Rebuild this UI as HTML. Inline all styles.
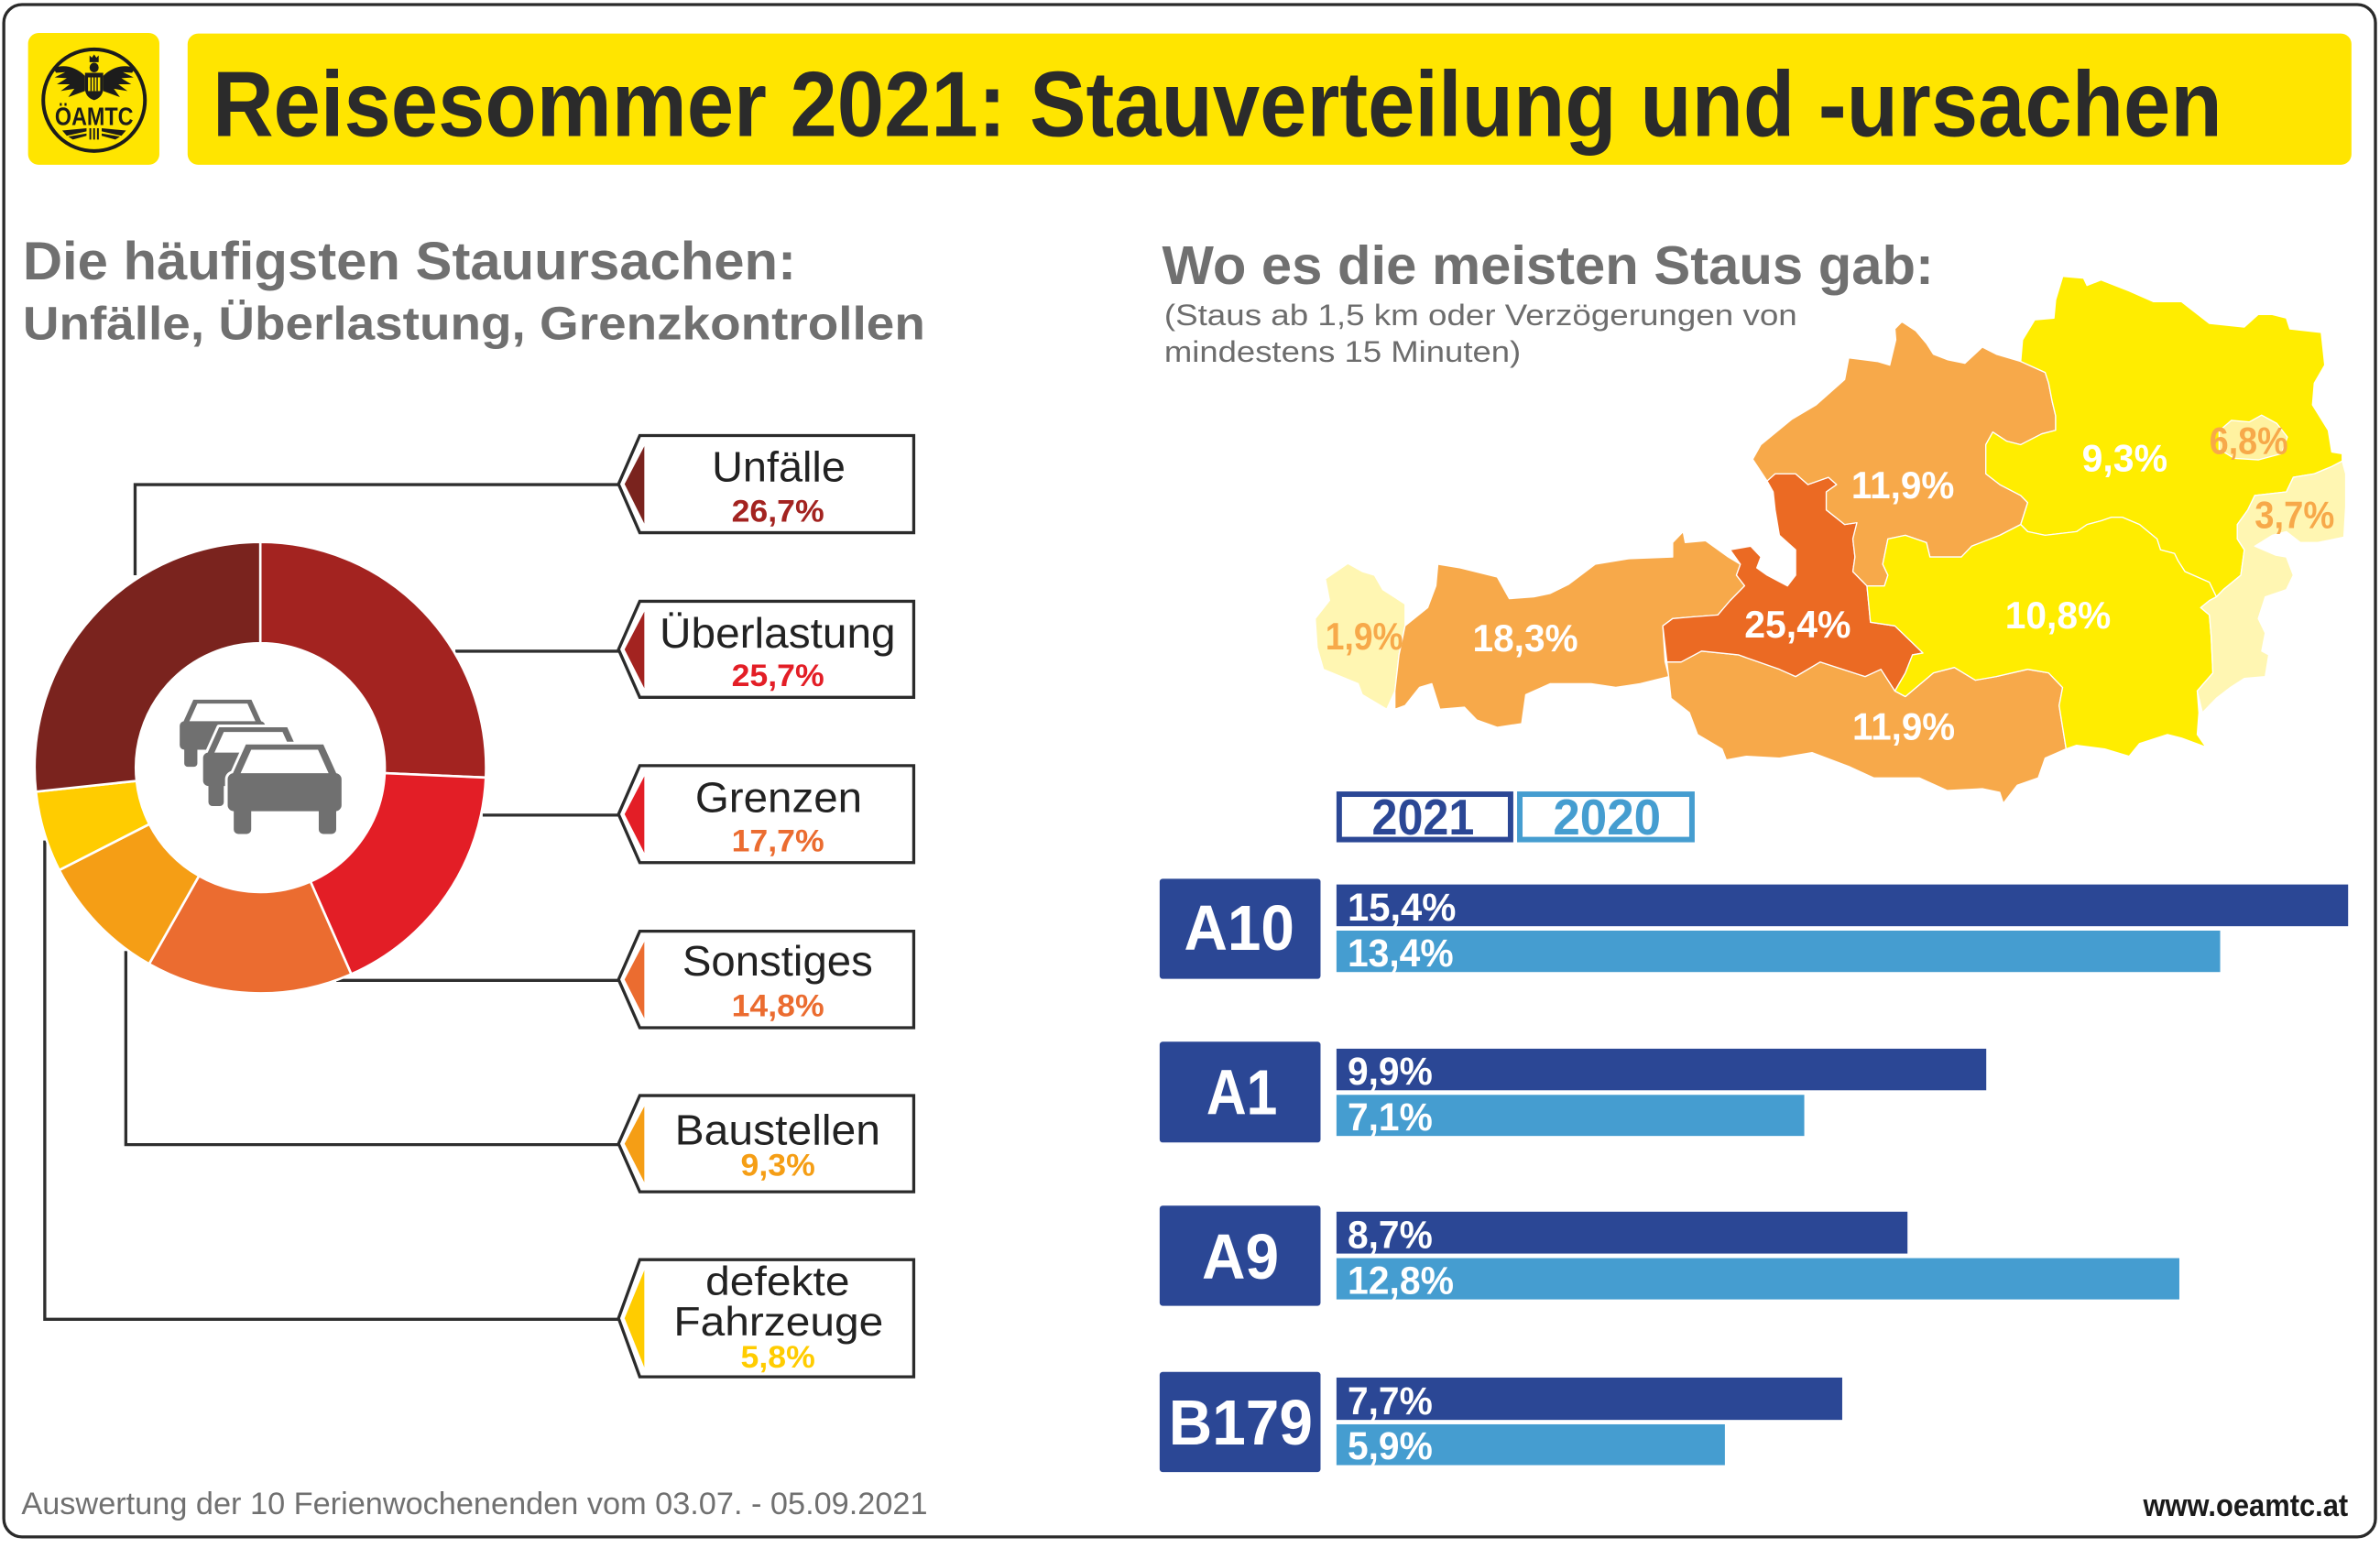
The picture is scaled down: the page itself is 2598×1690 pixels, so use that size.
<!DOCTYPE html>
<html><head><meta charset="utf-8">
<style>
html,body{margin:0;padding:0;background:#fff;}
svg{display:block;}
text{font-family:"Liberation Sans",Arial,sans-serif;}
</style></head>
<body>
<svg xmlns="http://www.w3.org/2000/svg" width="2598" height="1690" viewBox="0 0 1568 1020" preserveAspectRatio="none">
<rect x="0" y="0" width="1568" height="1020" fill="#fff"/>
<!-- outer border -->
<rect x="2.5" y="3" width="1562.5" height="1009.7" rx="12" fill="none" stroke="#2a2a2a" stroke-width="2"/>

<!-- logo box -->
<rect x="18.5" y="21.7" width="86.5" height="86.9" rx="7" fill="#FFE500"/>
<g>
  <circle cx="62" cy="66" r="33.5" fill="none" stroke="#1c1c1c" stroke-width="2.4"/>
  <path d="M59,41 L59,36.5 L60.5,38 L62,35.8 L63.5,38 L65,36.5 L65,41 Z" fill="#1c1c1c"/>
  <ellipse cx="62" cy="44.5" rx="3" ry="3.2" fill="#1c1c1c"/>
  <path d="M56,48 H68 V58 Q68,64 62,66 Q56,64 56,58 Z" fill="#1c1c1c"/>
  <rect x="58" y="51" width="8" height="9" fill="#FFE500"/>
  <path d="M60,51 V60 M62,51 V60 M64,51 V60" stroke="#1c1c1c" stroke-width="0.9"/>
  <path d="M56,50 C50,44 42,42 35,45 L37,48 L43,47.5 L36,51 L44,51.5 L37.5,55.5 L46,55.5 L40,60 L49,58.5 L45,64 L56,60 Z" fill="#1c1c1c"/>
  <path d="M68,50 C74,44 82,42 89,45 L87,48 L81,47.5 L88,51 L80,51.5 L86.5,55.5 L78,55.5 L84,60 L75,58.5 L79,64 L68,60 Z" fill="#1c1c1c"/>
  <text x="62" y="82.5" font-size="17" font-weight="bold" fill="#1c1c1c" text-anchor="middle" textLength="51.7" lengthAdjust="spacingAndGlyphs">ÖAMTC</text>
  <path d="M59.5,84.5 V92 M62,84.5 V92 M64.5,84.5 V92" stroke="#1c1c1c" stroke-width="1.2"/>
  <path d="M41,86 L57,84.5 L57,86.5 L44,89.5 Z M45,90 L57,88 L57,89.5 L48,92 Z" fill="#1c1c1c"/>
  <path d="M83,86 L67,84.5 L67,86.5 L80,89.5 Z M79,90 L67,88 L67,89.5 L76,92 Z" fill="#1c1c1c"/>
</g>

<!-- title -->
<rect x="123.6" y="22.1" width="1425.6" height="86.5" rx="7" fill="#FFE500"/>
<text x="140" y="89.5" font-size="61" font-weight="bold" fill="#2b2b2b" textLength="1324" lengthAdjust="spacingAndGlyphs">Reisesommer 2021: Stauverteilung und -ursachen</text>

<!-- left headings -->
<text x="15" y="184" font-size="35" font-weight="bold" fill="#707070" textLength="509.5" lengthAdjust="spacingAndGlyphs">Die häufigsten Stauursachen:</text>
<text x="15" y="223.7" font-size="31" font-weight="bold" fill="#707070" textLength="594.5" lengthAdjust="spacingAndGlyphs">Unfälle, Überlastung, Grenzkontrollen</text>

<!-- right headings -->
<text x="765.6" y="187" font-size="36" font-weight="bold" fill="#707070" textLength="508.4" lengthAdjust="spacingAndGlyphs">Wo es die meisten Staus gab:</text>
<text x="767" y="214.2" font-size="19.5" fill="#6d6d6d" textLength="417" lengthAdjust="spacingAndGlyphs">(Staus ab 1,5 km oder Verzögerungen von</text>
<text x="767" y="238.4" font-size="19.5" fill="#6d6d6d" textLength="235" lengthAdjust="spacingAndGlyphs">mindestens 15 Minuten)</text>

<!-- connector lines -->
<g fill="none" stroke="#2e2e2e" stroke-width="2">
  <path d="M89,379 V319.3 H408"/>
  <path d="M300,429.1 H408"/>
  <path d="M318,537.1 H408"/>
  <path d="M221.5,646 H408"/>
  <path d="M82.9,626.6 V754.2 H408"/>
  <path d="M29.5,553.8 V869.3 H408"/>
</g>

<!-- donut -->
<g stroke="#fff" stroke-width="1.6" stroke-linejoin="round">
  <path fill="#A32320" d="M171.5,357.1 A148.7,148.7 0 0 1 320.06,512.34 L253.42,509.41 A82,82 0 0 0 171.5,423.8 Z"/>
  <path fill="#E31E26" d="M320.06,512.34 A148.7,148.7 0 0 1 231.42,641.89 L204.54,580.85 A82,82 0 0 0 253.42,509.41 Z"/>
  <path fill="#EB6C30" d="M231.42,641.89 A148.7,148.7 0 0 1 98.23,635.20 L131.10,577.16 A82,82 0 0 0 204.54,580.85 Z"/>
  <path fill="#F59E15" d="M98.23,635.20 A148.7,148.7 0 0 1 39.01,573.31 L98.44,543.03 A82,82 0 0 0 131.10,577.16 Z"/>
  <path fill="#FFCC00" d="M39.01,573.31 A148.7,148.7 0 0 1 23.65,521.65 L89.97,514.54 A82,82 0 0 0 98.44,543.03 Z"/>
  <path fill="#7A231E" d="M23.65,521.65 A148.7,148.7 0 0 1 171.5,357.1 L171.5,423.8 A82,82 0 0 0 89.97,514.54 Z"/>
</g>
<circle cx="171.5" cy="505.8" r="81" fill="#fff"/>

<!-- cars -->
<g transform="translate(118.4,461) scale(0.75)">
  <g fill="#707070" stroke="#fff" stroke-width="4" stroke-linejoin="round">
    <path d="M12,0 H63 L72,20 H3 Z"/><rect x="0" y="19" width="75" height="25" rx="4"/>
    <rect x="4" y="38" width="11.5" height="21" rx="3"/><rect x="60" y="38" width="11.5" height="21" rx="3"/>
  </g>
  <g fill="#707070">
    <path d="M12,0 H63 L72,20 H3 Z"/><rect x="0" y="19" width="75" height="25" rx="4"/>
    <rect x="4" y="38" width="11.5" height="21" rx="3"/><rect x="60" y="38" width="11.5" height="21" rx="3"/>
  </g>
  <path d="M15.5,3.5 H59.5 L66.5,19 H8.5 Z" fill="#fff"/>
</g>
<g transform="translate(133.8,479.2) scale(0.88)">
  <g fill="#707070" stroke="#fff" stroke-width="4" stroke-linejoin="round">
    <path d="M12,0 H63 L72,20 H3 Z"/><rect x="0" y="19" width="75" height="25" rx="4"/>
    <rect x="4" y="38" width="11.5" height="21" rx="3"/><rect x="60" y="38" width="11.5" height="21" rx="3"/>
  </g>
  <g fill="#707070">
    <path d="M12,0 H63 L72,20 H3 Z"/><rect x="0" y="19" width="75" height="25" rx="4"/>
    <rect x="4" y="38" width="11.5" height="21" rx="3"/><rect x="60" y="38" width="11.5" height="21" rx="3"/>
  </g>
  <path d="M15.5,3.5 H59.5 L66.5,19 H8.5 Z" fill="#fff"/>
</g>
<g transform="translate(150,490.5)">
  <g fill="#707070" stroke="#fff" stroke-width="3.5" stroke-linejoin="round">
    <path d="M12,0 H63 L72,20 H3 Z"/><rect x="0" y="19" width="75" height="25" rx="4"/>
    <rect x="4" y="38" width="11.5" height="21" rx="3"/><rect x="60" y="38" width="11.5" height="21" rx="3"/>
  </g>
  <g fill="#707070">
    <path d="M12,0 H63 L72,20 H3 Z"/><rect x="0" y="19" width="75" height="25" rx="4"/>
    <rect x="4" y="38" width="11.5" height="21" rx="3"/><rect x="60" y="38" width="11.5" height="21" rx="3"/>
  </g>
  <path d="M15.5,3.5 H59.5 L66.5,19 H8.5 Z" fill="#fff"/>
</g>

<!-- label boxes -->
<g stroke="#2b2b2b" stroke-width="2" fill="#fff" stroke-linejoin="miter">
  <path d="M421.5,287 H602 V351 H421.5 L407.5,319 Z"/>
  <path d="M421.5,396.2 H602 V459.5 H421.5 L407.5,427.9 Z"/>
  <path d="M421.5,504.5 H602 V568.4 H421.5 L407.5,536.5 Z"/>
  <path d="M421.5,613.6 H602 V677.2 H421.5 L407.5,645.4 Z"/>
  <path d="M421.5,721.9 H602 V785.3 H421.5 L407.5,753.6 Z"/>
  <path d="M421.5,830 H602 V907.2 H421.5 L407.5,868.6 Z"/>
</g>
<path d="M424.5,294 V345 L411.5,319 Z" fill="#7A231E"/>
<path d="M424.5,403 V453.5 L411.5,427.9 Z" fill="#A32320"/>
<path d="M424.5,511.5 V562 L411.5,536.5 Z" fill="#E31E26"/>
<path d="M424.5,620.5 V671 L411.5,645.4 Z" fill="#EB6C30"/>
<path d="M424.5,729 V779 L411.5,753.6 Z" fill="#F59E15"/>
<path d="M424.5,837 V901 L411.5,868.6 Z" fill="#FFCC00"/>

<g font-size="28" fill="#222" text-anchor="middle">
  <text x="513" y="317.3" textLength="88" lengthAdjust="spacingAndGlyphs">Unfälle</text>
  <text x="512.3" y="426.7" textLength="155.5" lengthAdjust="spacingAndGlyphs">Überlastung</text>
  <text x="513" y="535" textLength="110" lengthAdjust="spacingAndGlyphs">Grenzen</text>
  <text x="512.3" y="642.7" textLength="125.5" lengthAdjust="spacingAndGlyphs">Sonstiges</text>
  <text x="512.3" y="754.2" textLength="135.4" lengthAdjust="spacingAndGlyphs">Baustellen</text>
  <text x="512.3" y="853.4" font-size="27" textLength="95" lengthAdjust="spacingAndGlyphs">defekte</text>
  <text x="512.9" y="880" font-size="27" textLength="138.2" lengthAdjust="spacingAndGlyphs">Fahrzeuge</text>
</g>
<g font-size="20.5" font-weight="bold" text-anchor="middle">
  <text x="512.5" y="343.7" fill="#A32320" textLength="61" lengthAdjust="spacingAndGlyphs">26,7%</text>
  <text x="512.5" y="452" fill="#E31E26" textLength="61" lengthAdjust="spacingAndGlyphs">25,7%</text>
  <text x="512.5" y="561" fill="#EB6C30" textLength="61" lengthAdjust="spacingAndGlyphs">17,7%</text>
  <text x="512.5" y="669.6" fill="#EB6C30" textLength="61" lengthAdjust="spacingAndGlyphs">14,8%</text>
  <text x="512.5" y="774.7" fill="#F59E15" textLength="49" lengthAdjust="spacingAndGlyphs">9,3%</text>
  <text x="512.5" y="901" fill="#FFCC00" textLength="49" lengthAdjust="spacingAndGlyphs">5,8%</text>
</g>

<!-- map -->
<g stroke="#fff" stroke-width="0.8" stroke-linejoin="round">
  <polygon fill="#FFF6B2" points="888,371.3 873.2,381.4 875.9,395.7 866.5,407.6 867.8,426.7 871.9,441 894.8,450.5 897.5,457.7 913.6,467.3 919,455.3 921.7,431.5 925.7,412.4 925.7,398 911,388.5 905.5,379 897.5,376.6"/>
  <polygon fill="#F7A94A" points="925.7,412.4 940.6,400.4 946,386 947.3,371.8 962,374.2 986.4,380.2 994.4,394.5 1010.6,393.3 1021.4,391 1033.5,385 1051,371.8 1072.6,368.2 1102,367 1102,357.5 1108.9,350.3 1110.3,357.5 1123.7,356.3 1138.6,367 1146.6,371.8 1144,379 1149.4,386 1139.9,395.7 1131.8,405.2 1115.7,406.4 1102,407.6 1095.5,412.4 1097,436 1099.5,445.8 1080.6,450.5 1064.5,452.9 1048.3,450.5 1021.4,450.5 1005.2,457.7 1002.5,476.8 986.4,479.2 972.9,474.4 964.8,466 948.6,467.3 943.3,450.5 935.2,452.9 925.7,464.9 919,467.3 919,455.3 921.7,431.5"/>
  <polygon fill="#F7A94A" points="1098.2,436.2 1107.6,436.2 1121,429 1145.3,431.5 1172.3,441 1183,445.8 1199.2,436.2 1228.8,445.8 1239.2,441 1248.4,455.3 1255.3,459 1273.8,443.4 1287.6,439.8 1301.4,448.2 1315.2,445.8 1335.9,441 1349.7,443.4 1358.9,453 1356.6,464.9 1358.9,479.2 1361.2,493.5 1347.4,499.5 1342.8,512.6 1329,517.4 1319.8,529.3 1317.5,522.1 1306,519.7 1283,520.9 1264.6,512.6 1234.6,512.6 1218,505 1193.8,495.9 1172.3,499.5 1150.7,498.3 1137.3,500.7 1134.5,493.5 1118.4,484 1113,469.6 1100.9,460.1 1099.5,447"/>
  <polygon fill="#EB6A23" points="1139.9,362.3 1153.4,359.9 1160.1,367 1157.4,374.2 1164.2,379 1177.6,386.1 1183,379 1183,362.3 1172.3,352.7 1169.5,336 1168.2,324.1 1164.2,316.9 1169.5,312.2 1183,312.2 1191.1,319.3 1204.6,314.5 1210,319.3 1203.2,324.1 1203.2,336 1215.3,345.6 1223.4,344.4 1220.7,355.1 1222.1,367 1220.7,376.6 1230,386.1 1232.3,410 1248.4,412.4 1266.9,430.3 1260,431.5 1255.3,443.4 1248.4,455.3 1239.2,441 1228.8,445.8 1199.2,436.2 1183,445.8 1172.3,441 1145.3,431.5 1121,429 1107.6,436.2 1098.2,436.2 1095.5,412.4 1102,407.6 1115.7,406.4 1131.8,405.2 1139.9,395.7 1149.4,386 1144,379 1146.6,371.8"/>
  <polygon fill="#F7A94A" points="1164.2,316.9 1154.7,302.6 1160.1,293 1180.3,276.4 1196.5,266.8 1215.3,250.1 1218,235.8 1236.9,238.2 1245,240.6 1249,223.9 1248.4,216.7 1253,212 1262.2,218 1269.2,226.3 1273.8,233.4 1283,237 1294.5,239.4 1306,228.7 1315.2,233.4 1331.3,238.2 1347.4,245.4 1349.7,252.5 1352,264.4 1354.3,274 1354.3,283.5 1345.1,285.9 1331.3,293 1322.1,290.7 1312.9,284.7 1308.3,293 1308.3,312.2 1317.5,319.3 1331.3,326.5 1335.9,331.2 1331.3,345.6 1317.5,352.7 1299,359.9 1292.2,367 1271.5,367 1269.2,357.5 1255.3,352.7 1243.8,355.1 1240.4,371.8 1243.8,379 1241.5,386.1 1230,386.1 1220.7,376.6 1222.1,367 1220.7,355.1 1223.4,344.4 1215.3,345.6 1203.2,336 1203.2,324.1 1210,319.3 1204.6,314.5 1191.1,319.3 1183,312.2 1169.5,312.2"/>
  <polygon fill="#FFED00" points="1331.3,238.2 1332.5,224 1340.5,210.8 1353.2,209.6 1354.3,197.6 1359,182.1 1372.7,183.3 1375,188.1 1384.2,184.5 1402.7,191.7 1418.8,198.8 1437.2,198.8 1455.6,213.1 1478.6,215.5 1487.8,207.2 1497,207.2 1506.3,209.6 1508.6,216.7 1529.3,219.1 1531.6,240.6 1524.7,252.5 1523.5,266.8 1533.9,283.5 1536.2,297.8 1543.1,299 1543.1,303.8 1536.2,307.4 1524.7,312.2 1510.9,314.5 1506.3,324.1 1485.5,326.5 1480.9,336 1474,345.6 1474,355.1 1478.6,362.3 1476.3,379 1464.8,388.5 1460.2,393.3 1455.6,383.7 1439.5,376.6 1434.9,369.4 1432.6,364.7 1423.4,362.3 1421.1,355.1 1409.6,345.6 1398.1,340.8 1391.2,340.8 1384.2,343.2 1375,345.6 1368.1,350.3 1347.4,352.7 1335.9,350.3 1331.3,345.6 1335.9,331.2 1331.3,326.5 1317.5,319.3 1308.3,312.2 1308.3,293 1312.9,284.7 1322.1,290.7 1331.3,293 1345.1,285.9 1354.3,283.5 1354.3,274 1352,264.4 1349.7,252.5 1347.4,245.4"/>
  <polygon fill="#FFED00" points="1230,386.1 1241.5,386.1 1243.8,379 1240.4,371.8 1243.8,355.1 1255.3,352.7 1269.2,357.5 1271.5,367 1292.2,367 1299,359.9 1317.5,352.7 1331.3,345.6 1335.9,350.3 1347.4,352.7 1368.1,350.3 1375,345.6 1384.2,343.2 1391.2,340.8 1398.1,340.8 1409.6,345.6 1421.1,355.1 1423.4,362.3 1432.6,364.7 1434.9,369.4 1439.5,376.6 1455.6,383.7 1460.2,393.3 1455.6,395.7 1449.9,400.4 1455.6,405.2 1456.8,419.5 1457.9,443.4 1447.6,455.3 1448.7,469.6 1447.6,484 1453.3,492.3 1437.2,486.3 1428,484 1409.6,489.9 1402.7,498.3 1386.6,493.5 1368.1,491.1 1361.2,493.5 1358.9,479.2 1356.6,464.9 1358.9,453 1349.7,443.4 1335.9,441 1315.2,445.8 1301.4,448.2 1287.6,439.8 1273.8,443.4 1255.3,459 1248.4,455.3 1255.3,443.4 1260,431.5 1266.9,430.3 1248.4,412.4 1232.3,410"/>
  <polygon fill="#FFF6B2" points="1536.2,307.4 1543.1,303.8 1545.4,312.2 1545.4,333.6 1544.2,353.9 1527,357.5 1515.5,357.5 1506.3,350.3 1497,352.7 1485.5,359.9 1499.3,365.8 1506.3,367 1510.9,379 1506.3,388.5 1492.4,393.3 1487.8,407.6 1492.4,417.1 1490.1,429 1494.7,431.5 1492.4,445.8 1478.6,447 1469.4,453 1460.2,460.1 1451,469.6 1447.6,455.3 1457.9,443.4 1456.8,419.5 1455.6,405.2 1449.9,400.4 1455.6,395.7 1460.2,393.3 1464.8,388.5 1476.3,379 1478.6,362.3 1474,355.1 1474,345.6 1480.9,336 1485.5,326.5 1506.3,324.1 1510.9,314.5 1524.7,312.2"/>
  <polygon fill="#FFF2A0" points="1462,284 1470,277 1482,278 1490,273.5 1500,279 1507,288 1503,299 1488,303 1472,302 1462,296"/>
</g>
<g font-size="25" font-weight="bold">
  <text x="873.2" y="427.9" fill="#F7A94A" textLength="51.2" lengthAdjust="spacingAndGlyphs">1,9%</text>
  <text x="970.2" y="429" fill="#fff" textLength="69.5" lengthAdjust="spacingAndGlyphs">18,3%</text>
  <text x="1149.3" y="420" fill="#fff" textLength="70.1" lengthAdjust="spacingAndGlyphs">25,4%</text>
  <text x="1219.7" y="328.4" fill="#fff" textLength="67.9" lengthAdjust="spacingAndGlyphs">11,9%</text>
  <text x="1371.6" y="310.5" fill="#fff" textLength="56.4" lengthAdjust="spacingAndGlyphs">9,3%</text>
  <text x="1455.6" y="299" fill="#F7A94A" textLength="51.8" lengthAdjust="spacingAndGlyphs">6,8%</text>
  <text x="1485.5" y="348" fill="#F7A94A" textLength="52.5" lengthAdjust="spacingAndGlyphs">3,7%</text>
  <text x="1321" y="414" fill="#fff" textLength="69.7" lengthAdjust="spacingAndGlyphs">10,8%</text>
  <text x="1220.4" y="487.5" fill="#fff" textLength="67.6" lengthAdjust="spacingAndGlyphs">11,9%</text>
</g>

<!-- legend -->
<rect x="882.3" y="523.3" width="112.9" height="29.9" fill="#fff" stroke="#2B4795" stroke-width="3.6"/>
<rect x="1001.3" y="523.3" width="113.4" height="29.9" fill="#fff" stroke="#459DD0" stroke-width="3.6"/>
<text x="903.8" y="549.8" font-size="33" font-weight="bold" fill="#2B4795" textLength="67.5" lengthAdjust="spacingAndGlyphs">2021</text>
<text x="1023.2" y="549.8" font-size="33" font-weight="bold" fill="#459DD0" textLength="71.1" lengthAdjust="spacingAndGlyphs">2020</text>

<!-- road boxes -->
<g fill="#2B4795">
  <rect x="764" y="579" width="106" height="66" rx="2"/>
  <rect x="764" y="686.4" width="106" height="66.4" rx="2"/>
  <rect x="764" y="794.4" width="106" height="66" rx="2"/>
  <rect x="764" y="904" width="106" height="66" rx="2"/>
</g>
<g font-size="42" font-weight="bold" fill="#fff" text-anchor="middle">
  <text x="816.4" y="626" textLength="72.7" lengthAdjust="spacingAndGlyphs">A10</text>
  <text x="818.2" y="734.3" textLength="46.8" lengthAdjust="spacingAndGlyphs">A1</text>
  <text x="817.2" y="842.5" textLength="50.7" lengthAdjust="spacingAndGlyphs">A9</text>
  <text x="817.4" y="951.9" textLength="94.8" lengthAdjust="spacingAndGlyphs">B179</text>
</g>

<!-- bars -->
<g fill="#2B4795">
  <rect x="880.5" y="582.8" width="666.5" height="27.5"/>
  <rect x="880.5" y="691" width="428.1" height="27.4"/>
  <rect x="880.5" y="798.4" width="376.2" height="27.6"/>
  <rect x="880.5" y="907.7" width="333.2" height="27.9"/>
</g>
<g fill="#459DD0">
  <rect x="880.5" y="613.2" width="582.2" height="27.3"/>
  <rect x="880.5" y="721.4" width="308.2" height="27.1"/>
  <rect x="880.5" y="829" width="555.3" height="27.2"/>
  <rect x="880.5" y="938.5" width="255.9" height="26.9"/>
</g>
<g font-size="26" font-weight="bold" fill="#fff">
  <text x="887.8" y="606.5" textLength="71.5" lengthAdjust="spacingAndGlyphs">15,4%</text>
  <text x="887.8" y="636.7" textLength="69.8" lengthAdjust="spacingAndGlyphs">13,4%</text>
  <text x="887.8" y="714.6" textLength="56" lengthAdjust="spacingAndGlyphs">9,9%</text>
  <text x="887.8" y="744.7" textLength="56" lengthAdjust="spacingAndGlyphs">7,1%</text>
  <text x="887.8" y="822.2" textLength="56" lengthAdjust="spacingAndGlyphs">8,7%</text>
  <text x="887.8" y="852.4" textLength="70" lengthAdjust="spacingAndGlyphs">12,8%</text>
  <text x="887.8" y="931.8" textLength="56" lengthAdjust="spacingAndGlyphs">7,7%</text>
  <text x="887.8" y="961.6" textLength="56" lengthAdjust="spacingAndGlyphs">5,9%</text>
</g>

<!-- footer -->
<text x="14.1" y="997.6" font-size="20.5" fill="#707070" textLength="597" lengthAdjust="spacingAndGlyphs">Auswertung der 10 Ferienwochenenden vom 03.07. - 05.09.2021</text>
<text x="1412" y="998.8" font-size="20.5" font-weight="bold" fill="#1a1a1a" textLength="135" lengthAdjust="spacingAndGlyphs">www.oeamtc.at</text>
</svg>
</body></html>
